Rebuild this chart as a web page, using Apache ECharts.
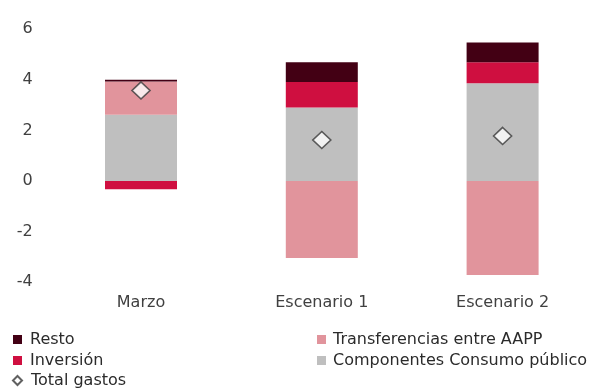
<!DOCTYPE html>
<html><head><meta charset="utf-8">
<script src="https://cdn.jsdelivr.net/npm/echarts@6/dist/echarts.min.js"></script>
<style>html,body{margin:0;padding:0;background:#fff}#c{width:616px;height:389px}</style>
</head><body><div id="c"></div>
<script>
const categories = ['Marzo', 'Escenario 1', 'Escenario 2'];
const consumo = [2.62, 2.91, 3.86];
const transferencias = [1.31, -3.04, -3.72];
const inversion = [-0.33, 1.00, 0.83];
const resto = [0.07, 0.78, 0.78];
const totalGastos = [3.58, 1.62, 1.78];
const yTicks = [-4, -2, 0, 2, 4, 6];

const font = '"DejaVu Sans", sans-serif';
const chart = echarts.init(document.getElementById('c'));
const barW = 72;
function leg(name, icon, left, cy, pad) {
  return { left: left, top: cy - 9, padding: 0, itemWidth: 9, itemHeight: 9, itemGap: 0,
    textStyle: { fontSize: 16, color: '#2b2b2b', fontFamily: font, lineHeight: 18, padding: [0, 0, 0, pad] },
    data: [{ name: name, icon: icon }] };
}
chart.setOption({
  animation: false,
  textStyle: { fontFamily: font },
  grid: { left: 50.6, right: 23, top: 29.2, bottom: 106.8 },
  xAxis: {
    type: 'category', data: categories,
    axisLine: { show: false }, axisTick: { show: false },
    axisLabel: { fontSize: 16, color: '#404040', margin: 13, fontFamily: font }
  },
  yAxis: {
    type: 'value', min: yTicks[0], max: yTicks[yTicks.length - 1], interval: 2,
    axisLine: { show: false }, axisTick: { show: false }, splitLine: { show: false },
    axisLabel: { fontSize: 16, color: '#404040', margin: 18, fontFamily: font, padding: [6, 0, 0, 0] }
  },
  legend: [
    leg('Resto', 'rect', 13, 339.5, 3),
    leg('Inversión', 'rect', 13, 360.5, 3),
    leg('Total gastos', 'diamond', 12, 380.5, 4),
    leg('Transferencias entre AAPP', 'rect', 317, 339.5, 2),
    leg('Componentes Consumo público', 'rect', 317, 360.5, 2)
  ],
  series: [
    { name: 'Componentes Consumo público', type: 'bar', stack: 't', data: consumo, barWidth: barW, itemStyle: { color: '#bfbfbf' } },
    { name: 'Transferencias entre AAPP', type: 'bar', stack: 't', data: transferencias, barWidth: barW, itemStyle: { color: '#e1949c' } },
    { name: 'Inversión', type: 'bar', stack: 't', data: inversion, barWidth: barW, itemStyle: { color: '#cf0f40' } },
    { name: 'Resto', type: 'bar', stack: 't', data: resto, barWidth: barW, itemStyle: { color: '#430014' } },
    { name: 'Total gastos', type: 'scatter', data: totalGastos, symbol: 'diamond', symbolSize: [18, 17], z: 10,
      itemStyle: { color: '#ffffff', borderColor: '#3a3a3a', borderWidth: 1.6 } }
  ]
});
</script></body></html>
